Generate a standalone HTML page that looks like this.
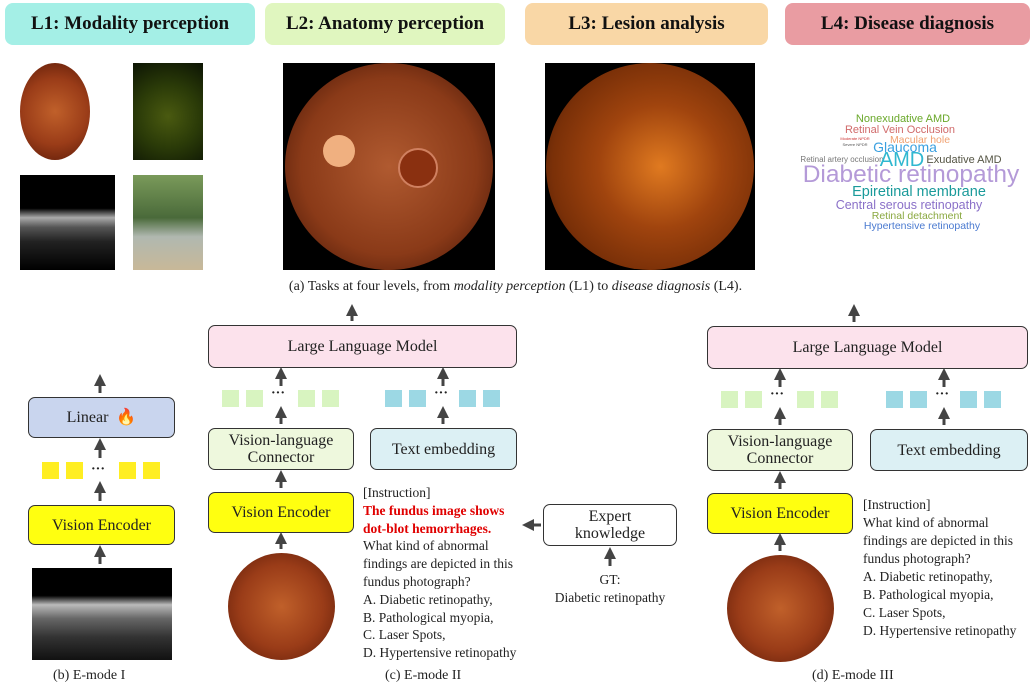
<!DOCTYPE html>
<html><head><meta charset="utf-8"><style>
body{margin:0;width:1031px;height:685px;background:#fff;position:relative;overflow:hidden;font-family:"Liberation Serif",serif;color:#222}
.a{position:absolute;box-sizing:border-box}
.hd{border-radius:8px;font-weight:bold;font-size:19px;display:flex;align-items:center;justify-content:center;color:#111}
.bx{border:1.3px solid #333;border-radius:7px;display:flex;align-items:center;justify-content:center;text-align:center;font-size:16px;line-height:17px}
.sq{position:absolute;width:17px;height:17px}
.cap{position:absolute;font-size:14px}
.fund{border-radius:50%;background:radial-gradient(circle at 50% 50%,#c0602a 0%,#9a3c18 55%,#5a1a08 100%)}
.txt{position:absolute;font-size:13.5px;line-height:18px}
</style></head><body>
<div class="a hd" style="left:5px;top:3px;width:250px;height:42px;background:#a4efe6">L1: Modality perception</div>
<div class="a hd" style="left:265px;top:3px;width:240px;height:42px;background:#e0f6bf">L2: Anatomy perception</div>
<div class="a hd" style="left:525px;top:3px;width:243px;height:42px;background:#f9d7a6">L3: Lesion analysis</div>
<div class="a hd" style="left:785px;top:3px;width:245px;height:42px;background:#e99ca2">L4: Disease diagnosis</div>

<div class="a fund" style="left:20px;top:63px;width:70px;height:97px;border-radius:50%/50%"></div>
<div class="a" style="left:133px;top:63px;width:70px;height:97px;background:radial-gradient(circle at 50% 55%,#4a5a10 0%,#2a3a08 50%,#0c1404 100%)"></div>
<div class="a" style="left:20px;top:175px;width:95px;height:95px;background:linear-gradient(#000 0%,#000 35%,#aaa 45%,#555 55%,#222 70%,#000 100%)"></div>
<div class="a" style="left:133px;top:175px;width:70px;height:95px;background:linear-gradient(#7a9a5a 0%,#4a6a3a 45%,#b0b8b0 65%,#c8b898 100%)"></div>

<div class="a" style="left:283px;top:63px;width:212px;height:207px;background:#000"><div class="a fund" style="left:2px;top:0;width:208px;height:207px;background:radial-gradient(circle at 50% 50%,#b05a30 0%,#8a3a18 60%,#3a1004 100%)"></div><div class="a" style="left:40px;top:72px;width:32px;height:32px;border-radius:50%;background:#f0b080"></div><div class="a" style="left:115px;top:85px;width:40px;height:40px;border-radius:50%;border:2px solid #d08060;background:#8a3010"></div></div>
<div class="a" style="left:545px;top:63px;width:210px;height:207px;background:#000"><div class="a fund" style="left:1px;top:0;width:208px;height:207px;background:radial-gradient(circle at 55% 50%,#e07a20 0%,#a0440e 40%,#7a3008 70%,#301000 100%)"></div></div>

<svg class="a" style="left:785px;top:80px" width="245" height="170" font-family="Liberation Sans, sans-serif" text-anchor="middle">
<text x="118" y="42" font-size="11" fill="#6aa82a">Nonexudative AMD</text>
<text x="115" y="53" font-size="11" fill="#d06a6a">Retinal Vein Occlusion</text>
<text x="135" y="63" font-size="10.5" fill="#f0a070">Macular hole</text>
<text x="70" y="60" font-size="4" fill="#c33">Moderate NPDR</text>
<text x="70" y="66" font-size="4" fill="#555">Severe NPDR</text>
<text x="120" y="72" font-size="14" fill="#3aa0e0">Glaucoma</text>
<text x="57" y="82" font-size="8" fill="#777">Retinal artery occlusion</text>
<text x="117" y="86" font-size="20" fill="#30b8d0">AMD</text>
<text x="179" y="83" font-size="11" fill="#554">Exudative AMD</text>
<text x="126" y="102" font-size="24.5" fill="#b49ad8">Diabetic retinopathy</text>
<text x="134" y="116" font-size="14.5" fill="#1a9a9a">Epiretinal membrane</text>
<text x="124" y="129" font-size="12.5" fill="#8a70c8">Central serous retinopathy</text>
<text x="132" y="139" font-size="10.5" fill="#8aa840">Retinal detachment</text>
<text x="137" y="149" font-size="10.5" fill="#4a7ad0">Hypertensive retinopathy</text>
</svg>

<div class="cap" style="left:0;width:1031px;top:279px;text-align:center">(a) Tasks at four levels, from <i>modality perception</i> (L1) to <i>disease diagnosis</i> (L4).</div>

<!-- b -->
<div class="a bx" style="left:28px;top:397px;width:147px;height:41px;background:#c9d5ee">Linear&nbsp;&nbsp;<span style="color:#f06010">🔥</span></div>
<div class="sq" style="left:42px;top:462px;background:#ffee22"></div><div class="sq" style="left:66px;top:462px;background:#ffee22"></div><div class="sq" style="left:119px;top:462px;background:#ffee22"></div><div class="sq" style="left:143px;top:462px;background:#ffee22"></div>
<div class="a" style="left:91px;top:462px;font-size:14px;font-weight:bold">···</div>
<div class="a bx" style="left:28px;top:505px;width:147px;height:40px;background:#ffff10">Vision Encoder</div>
<div class="a" style="left:32px;top:568px;width:140px;height:92px;background:linear-gradient(#000 0%,#000 30%,#bbb 40%,#666 55%,#333 75%,#111 100%)"></div>
<div class="cap" style="left:53px;top:668px">(b) E-mode I</div>

<!-- c -->
<div class="a bx" style="left:208px;top:325px;width:309px;height:43px;background:#fce2ec">Large Language Model</div>
<div class="a bx" style="left:208px;top:428px;width:146px;height:42px;background:#eef8dd">Vision-language<br>Connector</div>
<div class="a bx" style="left:370px;top:428px;width:147px;height:42px;background:#dcf0f4">Text embedding</div>
<div class="a bx" style="left:208px;top:492px;width:146px;height:41px;background:#ffff10">Vision Encoder</div>
<div class="a fund" style="left:228px;top:553px;width:107px;height:107px"></div>
<div class="txt" style="left:363px;top:484px;line-height:17.8px">[Instruction]<br><b style="color:#e00000">The fundus image shows<br>dot-blot hemorrhages.</b><br>What kind of abnormal<br>findings are depicted in this<br>fundus photograph?<br>A. Diabetic retinopathy,<br>B. Pathological myopia,<br>C. Laser Spots,<br>D. Hypertensive retinopathy</div>
<div class="a bx" style="left:543px;top:504px;width:134px;height:42px;background:#fff">Expert<br>knowledge</div>
<div class="txt" style="left:543px;top:571px;width:134px;text-align:center">GT:<br>Diabetic retinopathy</div>
<div class="cap" style="left:385px;top:668px">(c) E-mode II</div>

<!-- d -->
<div class="a bx" style="left:707px;top:326px;width:321px;height:43px;background:#fce2ec">Large Language Model</div>
<div class="a bx" style="left:707px;top:429px;width:146px;height:42px;background:#eef8dd">Vision-language<br>Connector</div>
<div class="a bx" style="left:870px;top:429px;width:158px;height:42px;background:#dcf0f4">Text embedding</div>
<div class="a bx" style="left:707px;top:493px;width:146px;height:41px;background:#ffff10">Vision Encoder</div>
<div class="a fund" style="left:727px;top:555px;width:107px;height:107px"></div>
<div class="txt" style="left:863px;top:496px">[Instruction]<br>What kind of abnormal<br>findings are depicted in this<br>fundus photograph?<br>A. Diabetic retinopathy,<br>B. Pathological myopia,<br>C. Laser Spots,<br>D. Hypertensive retinopathy</div>
<div class="cap" style="left:812px;top:668px">(d) E-mode III</div>

<div class="sq" style="left:222px;top:390px;background:#d8f4c0"></div><div class="sq" style="left:246px;top:390px;background:#d8f4c0"></div><div class="sq" style="left:298px;top:390px;background:#d8f4c0"></div><div class="sq" style="left:322px;top:390px;background:#d8f4c0"></div>
<div class="sq" style="left:385px;top:390px;background:#9cd8e4"></div><div class="sq" style="left:409px;top:390px;background:#9cd8e4"></div><div class="sq" style="left:459px;top:390px;background:#9cd8e4"></div><div class="sq" style="left:483px;top:390px;background:#9cd8e4"></div>
<div class="a" style="left:271px;top:386px;font-size:14px;font-weight:bold">···</div><div class="a" style="left:434px;top:386px;font-size:14px;font-weight:bold">···</div>
<div class="sq" style="left:721px;top:391px;background:#d8f4c0"></div><div class="sq" style="left:745px;top:391px;background:#d8f4c0"></div><div class="sq" style="left:797px;top:391px;background:#d8f4c0"></div><div class="sq" style="left:821px;top:391px;background:#d8f4c0"></div>
<div class="sq" style="left:886px;top:391px;background:#9cd8e4"></div><div class="sq" style="left:910px;top:391px;background:#9cd8e4"></div><div class="sq" style="left:960px;top:391px;background:#9cd8e4"></div><div class="sq" style="left:984px;top:391px;background:#9cd8e4"></div>
<div class="a" style="left:770px;top:387px;font-size:14px;font-weight:bold">···</div><div class="a" style="left:935px;top:387px;font-size:14px;font-weight:bold">···</div>

<svg class="a" style="left:0;top:0" width="1031" height="685">
<defs><marker id="m" markerWidth="4" markerHeight="4" refX="2" refY="2" orient="auto"><path d="M0,0L4,2L0,4Z" fill="#444"/></marker></defs>
<g stroke="#444" stroke-width="3" marker-end="url(#m)">
<line x1="100" y1="393" x2="100" y2="380"/><line x1="100" y1="458" x2="100" y2="444"/><line x1="100" y1="501" x2="100" y2="487"/><line x1="100" y1="564" x2="100" y2="551"/>
<line x1="352" y1="321" x2="352" y2="310"/><line x1="281" y1="386" x2="281" y2="373"/><line x1="443" y1="386" x2="443" y2="373"/>
<line x1="281" y1="424" x2="281" y2="412"/><line x1="443" y1="424" x2="443" y2="412"/><line x1="281" y1="488" x2="281" y2="476"/><line x1="281" y1="549" x2="281" y2="538"/>
<line x1="541" y1="525" x2="528" y2="525"/><line x1="610" y1="566" x2="610" y2="553"/>
<line x1="854" y1="322" x2="854" y2="310"/><line x1="780" y1="387" x2="780" y2="374"/><line x1="944" y1="387" x2="944" y2="374"/>
<line x1="780" y1="425" x2="780" y2="413"/><line x1="944" y1="425" x2="944" y2="413"/><line x1="780" y1="489" x2="780" y2="477"/><line x1="780" y1="551" x2="780" y2="539"/>
</g></svg>
</body></html>
